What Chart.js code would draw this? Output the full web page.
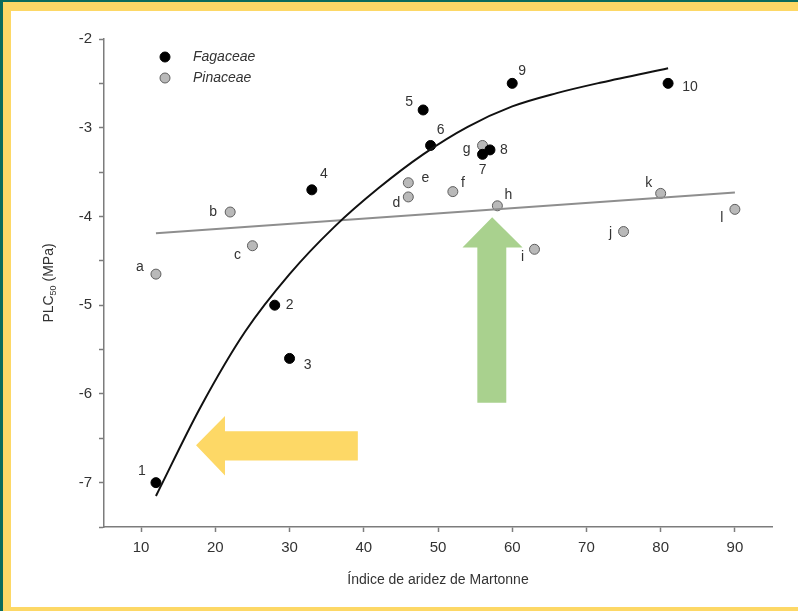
<!DOCTYPE html>
<html>
<head>
<meta charset="utf-8">
<script src="https://cdn.jsdelivr.net/npm/chart.js@4.4.1/dist/chart.umd.min.js"></script>
<style>
  html, body { margin: 0; padding: 0; background: #fff; }
  #frame { position: absolute; left: 0; top: 0; width: 798px; height: 611px; background: #fdd866; overflow: hidden; }
  #tealTop { position: absolute; left: 0; top: 0; width: 798px; height: 2px; background: #0b6b5c; }
  #tealLeft { position: absolute; left: 0; top: 0; width: 3px; height: 611px; background: #0b6b5c; }
  #paper { position: absolute; left: 11px; top: 11px; width: 787px; height: 596px; background: #fff; }
  #wrap { position: absolute; left: 0; top: 0; width: 798px; height: 611px; }
</style>
</head>
<body>
<div id="frame">
  <div id="tealTop"></div>
  <div id="tealLeft"></div>
  <div id="paper"></div>
  <div id="wrap"><canvas id="myChart" width="798" height="611"></canvas></div>
</div>
<script>
// Fagaceae points (black)
var fagX = [12, 28, 30, 33, 48, 49, 56, 57, 60, 81];
var fagY = [-7.0, -5.0, -5.6, -3.7, -2.8, -3.2, -3.3, -3.25, -2.5, -2.5];
var fagLabels = ['1', '2', '3', '4', '5', '6', '7', '8', '9', '10'];

// Pinaceae points (grey)
var pinX = [12, 22, 25, 46, 46, 52, 56, 58, 63, 75, 80, 90];
var pinY = [-4.65, -3.95, -4.33, -3.78, -3.62, -3.72, -3.2, -3.88, -4.37, -4.17, -3.74, -3.92];
var pinLabels = ['a', 'b', 'c', 'd', 'e', 'f', 'g', 'h', 'i', 'j', 'k', 'l'];

// fitted curves
var fagFitX = [12, 18, 24, 30, 36, 42, 48, 54, 60, 66, 72, 81];
var fagFitY = [-7.15, -6.15, -5.3, -4.65, -4.12, -3.68, -3.30, -2.99, -2.76, -2.61, -2.49, -2.33];
var pinFitX = [12, 90];
var pinFitY = [-4.19, -3.73];

var xTicks = [10, 20, 30, 40, 50, 60, 70, 80, 90];
var yTicks = [-7, -6, -5, -4, -3, -2];

// label offsets in px (dx, dy) from each point
var fagLabelOffsets = [[-14, -11], [15, 0], [18, 7], [12, -16], [-14, -8], [10, -15], [0, 16], [14, 0], [10, -12], [22, 4]];
var pinLabelOffsets = [[-16, -7], [-17, 0], [-15, 9], [-12, 6], [17, -5], [10, -8], [-16, 4], [11, -11], [-12, 8], [-13, 2], [-12, -10], [-13, 9]];

// arrows drawn in data units: [tipX, tipY, tailX/Y, ...]
var arrows = [
    { dir: 'left', color: '#fdd866', tip: [17.4, -6.58], headEnd: 21.3, tailEnd: 39.2, headHalf: [-6.25, -6.92], shaft: [-6.42, -6.75] },
    { dir: 'up', color: '#a9d18e', tip: [57.3, -4.01], headEnd: -4.35, tailEnd: -6.10, headHalf: [53.3, 61.4], shaft: [55.3, 59.2] }
];

function toPoints(xs, ys) {
    return xs.map(function (x, i) { return { x: x, y: ys[i] }; });
}

var FONT = "'Liberation Sans', Arial, sans-serif";
var AXIS = '#7c7c7c';
var TEXT = '#333333';

var arrowPlugin = {
    id: 'arrows',
    beforeDatasetsDraw: function (chart) {
        var ctx = chart.ctx, xs = chart.scales.x, ys = chart.scales.y;
        arrows.forEach(function (a) {
            ctx.save();
            ctx.fillStyle = a.color;
            ctx.beginPath();
            if (a.dir === 'left') {
                var tx = xs.getPixelForValue(a.tip[0]), ty = ys.getPixelForValue(a.tip[1]);
                var hx = xs.getPixelForValue(a.headEnd), ex = xs.getPixelForValue(a.tailEnd);
                var h1 = ys.getPixelForValue(a.headHalf[0]), h2 = ys.getPixelForValue(a.headHalf[1]);
                var s1 = ys.getPixelForValue(a.shaft[0]), s2 = ys.getPixelForValue(a.shaft[1]);
                ctx.moveTo(tx, ty);
                ctx.lineTo(hx, h1); ctx.lineTo(hx, s1); ctx.lineTo(ex, s1);
                ctx.lineTo(ex, s2); ctx.lineTo(hx, s2); ctx.lineTo(hx, h2);
            } else {
                var tx2 = xs.getPixelForValue(a.tip[0]), ty2 = ys.getPixelForValue(a.tip[1]);
                var hy = ys.getPixelForValue(a.headEnd), ey = ys.getPixelForValue(a.tailEnd);
                var g1 = xs.getPixelForValue(a.headHalf[0]), g2 = xs.getPixelForValue(a.headHalf[1]);
                var q1 = xs.getPixelForValue(a.shaft[0]), q2 = xs.getPixelForValue(a.shaft[1]);
                ctx.moveTo(tx2, ty2);
                ctx.lineTo(g2, hy); ctx.lineTo(q2, hy); ctx.lineTo(q2, ey);
                ctx.lineTo(q1, ey); ctx.lineTo(q1, hy); ctx.lineTo(g1, hy);
            }
            ctx.closePath();
            ctx.fill();
            ctx.restore();
        });
    }
};

var labelPlugin = {
    id: 'pointLabels',
    afterDatasetsDraw: function (chart) {
        var ctx = chart.ctx;
        ctx.save();
        ctx.font = '14px ' + FONT;
        ctx.fillStyle = TEXT;
        ctx.textAlign = 'center';
        ctx.textBaseline = 'middle';
        [[2, fagLabels, fagLabelOffsets], [3, pinLabels, pinLabelOffsets]].forEach(function (d) {
            var meta = chart.getDatasetMeta(d[0]);
            meta.data.forEach(function (pt, i) {
                ctx.fillText(d[1][i], pt.x + d[2][i][0], pt.y + d[2][i][1]);
            });
        });
        ctx.restore();
    },
    afterDraw: function (chart) {
        var ctx = chart.ctx, area = chart.chartArea;
        ctx.save();
        ctx.fillStyle = TEXT;
        // x axis title
        ctx.font = '14px ' + FONT;
        ctx.textAlign = 'center';
        ctx.textBaseline = 'middle';
        ctx.fillText('Índice de aridez de Martonne', (area.left + area.right) / 2, 580);
        // y axis title with subscript
        ctx.translate(48, (area.top + area.bottom) / 2);
        ctx.rotate(-Math.PI / 2);
        ctx.textAlign = 'left';
        ctx.textBaseline = 'alphabetic';
        ctx.font = '14px ' + FONT;
        var w1 = ctx.measureText('PLC').width;
        var w3 = ctx.measureText(' (MPa)').width;
        ctx.font = '9px ' + FONT;
        var w2 = ctx.measureText('50').width;
        var x0 = -(w1 + w2 + w3) / 2;
        ctx.font = '14px ' + FONT;
        ctx.fillText('PLC', x0, 5);
        ctx.font = '9px ' + FONT;
        ctx.fillText('50', x0 + w1, 8);
        ctx.font = '14px ' + FONT;
        ctx.fillText(' (MPa)', x0 + w1 + w2, 5);
        ctx.restore();

        // legend
        ctx.save();
        var legend = [[chart.data.datasets[2], 'Fagaceae', 57], [chart.data.datasets[3], 'Pinaceae', 78]];
        legend.forEach(function (l) {
            ctx.beginPath();
            ctx.arc(165, l[2], 5, 0, Math.PI * 2);
            ctx.fillStyle = l[0].backgroundColor;
            ctx.fill();
            ctx.lineWidth = 1;
            ctx.strokeStyle = l[0].borderColor;
            ctx.stroke();
            ctx.fillStyle = TEXT;
            ctx.font = 'italic 14px ' + FONT;
            ctx.textAlign = 'left';
            ctx.textBaseline = 'middle';
            ctx.fillText(l[1], 193, l[2]);
        });
        ctx.restore();
    }
};

var ctx = document.getElementById('myChart').getContext('2d');
var chart = new Chart(ctx, {
    type: 'scatter',
    data: {
        datasets: [{
            label: 'Fagaceae fit',
            type: 'line',
            data: toPoints(fagFitX, fagFitY),
            borderColor: '#111111',
            borderWidth: 2,
            pointRadius: 0,
            fill: false,
            cubicInterpolationMode: 'monotone'
        }, {
            label: 'Pinaceae fit',
            type: 'line',
            data: toPoints(pinFitX, pinFitY),
            borderColor: '#8e8e8e',
            borderWidth: 2,
            pointRadius: 0,
            fill: false
        }, {
            label: 'Fagaceae',
            data: toPoints(fagX, fagY),
            backgroundColor: '#000000',
            borderColor: '#000000',
            pointRadius: 5,
            borderWidth: 1
        }, {
            label: 'Pinaceae',
            data: toPoints(pinX, pinY),
            backgroundColor: '#b9b9b9',
            borderColor: '#5e5e5e',
            pointRadius: 5,
            borderWidth: 1
        }]
    },
    options: {
        responsive: false,
        animation: false,
        events: [],
        layout: { padding: { left: 0, right: 26, top: 39, bottom: 0 } },
        plugins: {
            legend: { display: false },
            tooltip: { enabled: false }
        },
        scales: {
            x: {
                type: 'linear',
                min: 5,
                max: 95,
                afterBuildTicks: function (s) {
                    s.ticks = xTicks.map(function (v) { return { value: v }; });
                },
                afterFit: function (s) { s.height = 84; },
                border: { color: AXIS, width: 1.5 },
                grid: { drawOnChartArea: false, tickLength: 5, tickColor: AXIS, tickWidth: 1.5 },
                ticks: { color: TEXT, font: { family: FONT, size: 15 }, padding: 7, maxRotation: 0 }
            },
            y: {
                min: -7.5,
                max: -2,
                afterBuildTicks: function (s) {
                    var t = [];
                    for (var v = -7.5; v <= -2; v += 0.5) t.push({ value: v });
                    s.ticks = t;
                },
                afterFit: function (s) { s.width = 104; },
                border: { color: AXIS, width: 1.5 },
                grid: { drawOnChartArea: false, tickLength: 5, tickColor: AXIS, tickWidth: 1.5 },
                ticks: {
                    color: TEXT,
                    font: { family: FONT, size: 15 },
                    padding: 7,
                    callback: function (v) { return yTicks.indexOf(v) >= 0 ? String(v) : ''; }
                }
            }
        }
    },
    plugins: [arrowPlugin, labelPlugin]
});
</script>
</body>
</html>
